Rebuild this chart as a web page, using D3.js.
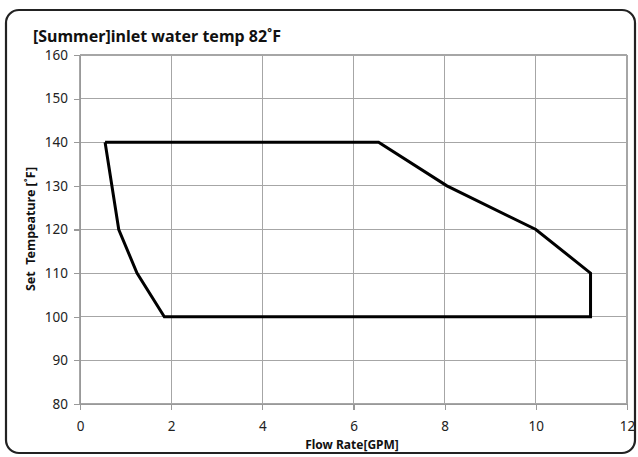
<!DOCTYPE html>
<html><head><meta charset="utf-8">
<script src="https://cdn.jsdelivr.net/npm/d3@7"></script>
<style>body{margin:0;background:#fff}svg{display:block}text{font-family:"Noto Sans","Open Sans",sans-serif}</style>
</head><body>
<svg id="c" width="638" height="457"></svg>
<script>
const title = "[Summer]inlet water temp 82˚F";
const xLabel = "Flow Rate[GPM]";
const yLabel = "Set\u00a0\u00a0Tempeature [˚F]";
const xTicks = [0, 2, 4, 6, 8, 10, 12];
const yTicks = [80, 90, 100, 110, 120, 130, 140, 150, 160];
const flowRate = [0.55, 6.55, 8.05, 10.0, 11.2, 11.2, 1.85, 1.25, 0.85, 0.55];
const setTemp  = [140, 140, 130, 120, 110, 100, 100, 110, 120, 140];

const svg = d3.select("#c");
const L = 80, R = 627, T = 55, B = 404;
const x = d3.scaleLinear().domain([0, 12]).range([L, R]);
const y = d3.scaleLinear().domain([80, 160]).range([B, T]);

svg.append("rect").attr("x", 6).attr("y", 10).attr("width", 629).attr("height", 443)
  .attr("rx", 13).attr("fill", "#fff").attr("stroke", "#222").attr("stroke-width", 2.2);

// grid
const g = svg.append("g");
g.selectAll(".gx").data(xTicks).join("line")
  .attr("x1", d => x(d)).attr("x2", d => x(d)).attr("y1", T).attr("y2", B)
  .attr("stroke", "#a6a6a6").attr("stroke-width", 1.2).attr("shape-rendering", "crispEdges");
g.selectAll(".gy").data(yTicks).join("line")
  .attr("x1", L).attr("x2", R).attr("y1", d => y(d)).attr("y2", d => y(d))
  .attr("stroke", "#a6a6a6").attr("stroke-width", 1.2).attr("shape-rendering", "crispEdges");

// axes
const xa = svg.append("g").attr("transform", `translate(0,${B})`)
  .call(d3.axisBottom(x).tickValues(xTicks).tickSize(6).tickPadding(11).tickSizeOuter(0));
const ya = svg.append("g").attr("transform", `translate(${L},0)`)
  .call(d3.axisLeft(y).tickValues(yTicks).tickSize(6).tickPadding(6).tickSizeOuter(0));
[xa, ya].forEach(a => {
  a.selectAll("path,line").attr("stroke", "#999").attr("stroke-width", 1.2).attr("shape-rendering", "crispEdges");
  a.selectAll("text").attr("font-size", 13.5).attr("fill", "#222").attr("font-family", "Open Sans, Noto Sans, sans-serif");
});

// polygon
const line = d3.line().x((d, i) => x(flowRate[i])).y((d, i) => y(setTemp[i]));
svg.append("path").attr("d", line(flowRate)).attr("fill", "none")
  .attr("stroke", "#000").attr("stroke-width", 3).attr("stroke-linejoin", "miter");

svg.append("text").attr("x", 33).attr("y", 42).attr("font-size", 16).attr("font-weight", "bold")
  .attr("fill", "#111").text(title);
svg.append("text").attr("x", 352).attr("y", 449).attr("text-anchor", "middle").attr("font-size", 12)
  .attr("font-weight", "bold").attr("fill", "#111").text(xLabel);
svg.append("text").attr("transform", "translate(35,229) rotate(-90)").attr("text-anchor", "middle")
  .attr("font-size", 12.5).attr("font-weight", "bold").attr("fill", "#111").text(yLabel);
</script>
</body></html>
